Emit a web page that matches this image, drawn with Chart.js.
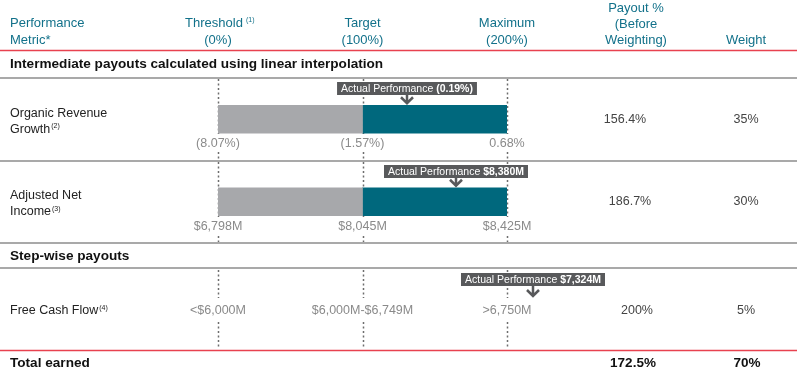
<!DOCTYPE html>
<html>
<head>
<meta charset="utf-8">
<script src="https://cdn.jsdelivr.net/npm/chart.js@4/dist/chart.umd.min.js"></script>
<style>
  body { margin: 0; background: #fff; }
  canvas { display: block; }
</style>
</head>
<body>
<canvas id="payoutChart" width="800" height="374"></canvas>
<script>
// rows that have a bar (performance scale: 0 = threshold, 100 = target, 200 = maximum)
const categories = ['Organic Revenue Growth', 'Adjusted Net Income'];
const thresholdToTarget = [100, 100];
const targetToMaximum = [100, 100];

// where the "Actual Performance" arrow points, on the same scale
const actualPosition = [131, 165, 218];
const actualLabels = ['(0.19%)', '$8,380M', '$7,324M'];

// labels under the threshold / target / maximum markers
const levelLabels = [
  ['(8.07%)', '(1.57%)', '0.68%'],
  ['$6,798M', '$8,045M', '$8,425M'],
  ['<$6,000M', '$6,000M-$6,749M', '>6,750M'],
];
const levelValues = [0, 100, 200];

const payouts = ['156.4%', '186.7%', '200%'];
const weights = ['35%', '30%', '5%'];
const totalPayout = '172.5%';
const totalWeight = '70%';

const FONT = '"Liberation Sans", Arial, sans-serif';
const TEAL_TEXT = '#12718a';
const RED = '#e8424f';
const RULE = '#a9a9a9';

function text(ctx, str, x, y, opts) {
  ctx.font = (opts.bold ? 'bold ' : '') + opts.size + 'px ' + FONT;
  ctx.fillStyle = opts.color;
  ctx.textAlign = opts.align || 'left';
  ctx.textBaseline = 'middle';
  ctx.fillText(str, x, y);
  return ctx.measureText(str).width;
}

function sup(ctx, str, x, y, color) {
  ctx.font = '7px ' + FONT;
  ctx.fillStyle = color;
  ctx.textAlign = 'left';
  ctx.textBaseline = 'middle';
  ctx.fillText(str, x, y);
}

function hline(ctx, y, color, w) {
  ctx.save();
  ctx.strokeStyle = color;
  ctx.lineWidth = w;
  ctx.beginPath();
  ctx.moveTo(0, y);
  ctx.lineTo(797, y);
  ctx.stroke();
  ctx.restore();
}

function dotted(ctx, x, y1, y2) {
  ctx.save();
  ctx.strokeStyle = '#6d6d6d';
  ctx.lineWidth = 1.5;
  ctx.setLineDash([2, 2.5]);
  ctx.beginPath();
  ctx.moveTo(x, y1);
  ctx.lineTo(x, y2);
  ctx.stroke();
  ctx.restore();
}

function callout(ctx, x, top, tip, value) {
  ctx.save();
  ctx.font = '10.5px ' + FONT;
  const w1 = ctx.measureText('Actual Performance ').width;
  ctx.font = 'bold 10.5px ' + FONT;
  const w2 = ctx.measureText(value).width;
  const w = w1 + w2 + 8;
  const left = x - w / 2;
  ctx.fillStyle = '#58595b';
  ctx.fillRect(left, top, w, 13);
  text(ctx, 'Actual Performance ', left + 4, top + 7, { size: 10.5, color: '#fff' });
  text(ctx, value, left + 4 + w1, top + 7, { size: 10.5, color: '#fff', bold: true });
  ctx.strokeStyle = '#58595b';
  ctx.lineWidth = 2.5;
  ctx.beginPath();
  ctx.moveTo(x, top + 13);
  ctx.lineTo(x, tip);
  ctx.moveTo(x - 6, tip - 6);
  ctx.lineTo(x, tip);
  ctx.lineTo(x + 6, tip - 6);
  ctx.stroke();
  ctx.restore();
}

const tablePlugin = {
  id: 'tablePlugin',
  beforeDatasetsDraw(chart) {
    const ctx = chart.ctx;
    const xs = chart.scales.x;
    levelValues.forEach(v => {
      const px = Math.round(xs.getPixelForValue(v)) + 0.5;
      dotted(ctx, px, 79, 134);
      dotted(ctx, px, 152, 160);
      dotted(ctx, px, 162, 217);
      dotted(ctx, px, 236, 242);
      dotted(ctx, px, 270, 298);
      dotted(ctx, px, 322, 349);
    });
  },
  afterDraw(chart) {
    const ctx = chart.ctx;
    const xs = chart.scales.x;
    const ys = chart.scales.y;

    // header
    text(ctx, 'Performance', 10, 23, { size: 13, color: TEAL_TEXT });
    text(ctx, 'Metric*', 10, 40, { size: 13, color: TEAL_TEXT });
    const headers = [['Threshold', '(0%)'], ['Target', '(100%)'], ['Maximum', '(200%)']];
    headers.forEach((h, i) => {
      const px = xs.getPixelForValue(levelValues[i]);
      const w = text(ctx, h[0], i === 0 ? px - 4 : px, 23, { size: 13, color: TEAL_TEXT, align: 'center' });
      if (i === 0) sup(ctx, '(1)', px - 4 + w / 2 + 3, 20, TEAL_TEXT);
      text(ctx, h[1], px, 40, { size: 13, color: TEAL_TEXT, align: 'center' });
    });
    text(ctx, 'Payout %', 636, 8, { size: 13, color: TEAL_TEXT, align: 'center' });
    text(ctx, '(Before', 636, 24, { size: 13, color: TEAL_TEXT, align: 'center' });
    text(ctx, 'Weighting)', 636, 40, { size: 13, color: TEAL_TEXT, align: 'center' });
    text(ctx, 'Weight', 746, 40, { size: 13, color: TEAL_TEXT, align: 'center' });

    hline(ctx, 50.5, RED, 1.5);
    text(ctx, 'Intermediate payouts calculated using linear interpolation', 10, 64, { size: 13.6, color: '#111', bold: true });
    hline(ctx, 78, RULE, 2);
    hline(ctx, 161, RULE, 2);
    hline(ctx, 243, RULE, 2);
    text(ctx, 'Step-wise payouts', 10, 256, { size: 13.6, color: '#111', bold: true });
    hline(ctx, 268, RULE, 2);
    hline(ctx, 350.5, RED, 1.5);
    text(ctx, 'Total earned', 10, 363, { size: 13.6, color: '#111', bold: true });

    // row labels
    const rowY = [ys.getPixelForValue(0), ys.getPixelForValue(1), 311];
    text(ctx, 'Organic Revenue', 10, rowY[0] - 6, { size: 12.5, color: '#222' });
    let w = text(ctx, 'Growth', 10, rowY[0] + 10, { size: 12.5, color: '#222' });
    sup(ctx, '(2)', 10 + w + 1, rowY[0] + 7, '#222');
    text(ctx, 'Adjusted Net', 10, rowY[1] - 6, { size: 12.5, color: '#222' });
    w = text(ctx, 'Income', 10, rowY[1] + 10, { size: 12.5, color: '#222' });
    sup(ctx, '(3)', 10 + w + 1, rowY[1] + 7, '#222');
    w = text(ctx, 'Free Cash Flow', 10, rowY[2], { size: 12.5, color: '#222' });
    sup(ctx, '(4)', 10 + w + 1, rowY[2] - 3, '#222');

    // level labels
    const labelY = [rowY[0] + 24, rowY[1] + 25, rowY[2]];
    levelLabels.forEach((row, r) => {
      row.forEach((lab, i) => {
        text(ctx, lab, xs.getPixelForValue(levelValues[i]), labelY[r], { size: 12.5, color: '#8a8a8a', align: 'center' });
      });
    });

    // payout / weight columns
    const payoutX = [625, 630, 637];
    payouts.forEach((p, r) => {
      text(ctx, p, payoutX[r], rowY[r], { size: 12.5, color: '#444', align: 'center' });
      text(ctx, weights[r], 746, rowY[r], { size: 12.5, color: '#444', align: 'center' });
    });
    text(ctx, totalPayout, 633, 363, { size: 13.5, color: '#111', bold: true, align: 'center' });
    text(ctx, totalWeight, 747, 363, { size: 13.5, color: '#111', bold: true, align: 'center' });

    // actual performance callouts
    const tops = [82, 165, 273];
    const tips = [rowY[0] - 16, rowY[1] - 16, 296];
    actualPosition.forEach((v, r) => {
      callout(ctx, Math.round(xs.getPixelForValue(v)), tops[r], tips[r], actualLabels[r]);
    });
  }
};

new Chart(document.getElementById('payoutChart'), {
  type: 'bar',
  data: {
    labels: categories,
    datasets: [
      { label: 'Threshold to target', data: thresholdToTarget, backgroundColor: '#a7a8ab', barThickness: 28 },
      { label: 'Target to maximum', data: targetToMaximum, backgroundColor: '#00687d', barThickness: 28 },
    ]
  },
  options: {
    indexAxis: 'y',
    responsive: false,
    animation: false,
    layout: { padding: { left: 218, right: 293, top: 78, bottom: 131 } },
    plugins: { legend: { display: false }, tooltip: { enabled: false } },
    scales: {
      x: { display: false, stacked: true, min: 0, max: 200 },
      y: { display: false, stacked: true }
    }
  },
  plugins: [tablePlugin]
});
</script>
</body>
</html>
